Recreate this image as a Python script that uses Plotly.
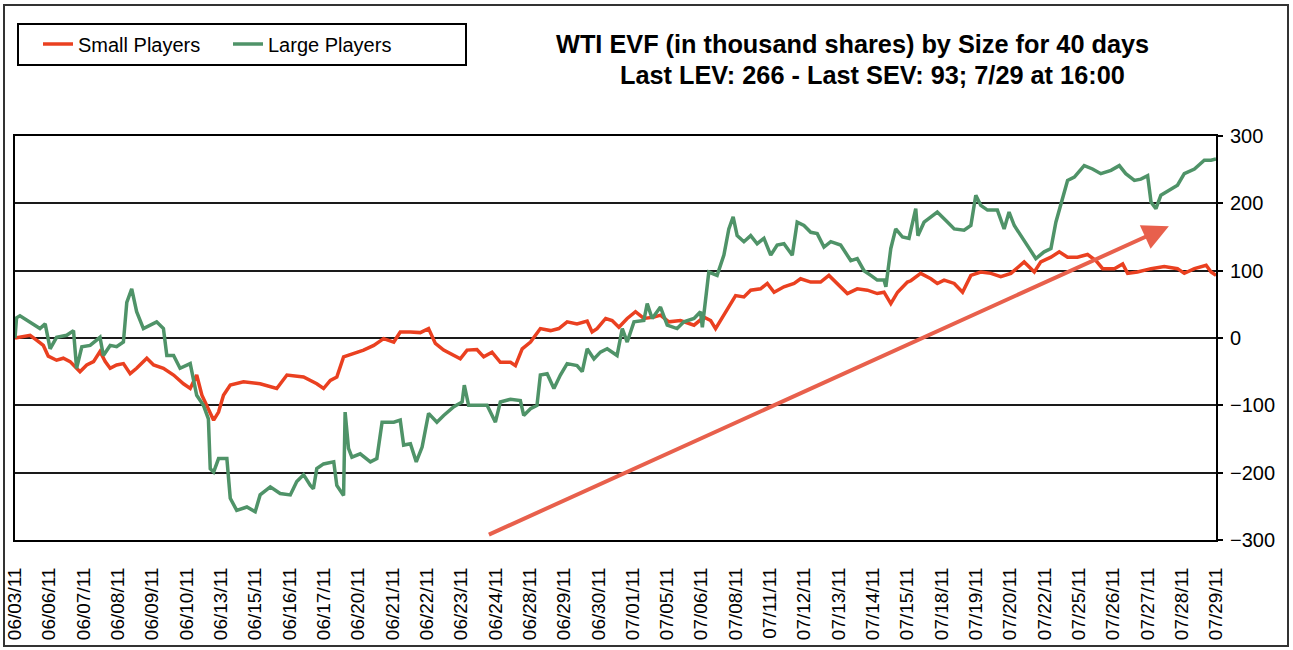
import numpy as np
import plotly.graph_objects as go

# ---------------- data ----------------
dates = ["06/03/11", "06/06/11", "06/07/11", "06/08/11", "06/09/11", "06/10/11",
         "06/13/11", "06/15/11", "06/16/11", "06/17/11", "06/20/11", "06/21/11",
         "06/22/11", "06/23/11", "06/24/11", "06/28/11", "06/29/11", "06/30/11",
         "07/01/11", "07/05/11", "07/06/11", "07/08/11", "07/11/11", "07/12/11",
         "07/13/11", "07/14/11", "07/15/11", "07/18/11", "07/19/11", "07/20/11",
         "07/22/11", "07/25/11", "07/26/11", "07/27/11", "07/28/11", "07/29/11"]

# sample position along the 40-day window (0 = start, 39 = last print)
small_pos = [0.0, 0.49, 0.70, 0.92, 1.08, 1.35, 1.57, 1.79, 2.0, 2.11, 2.33, 2.55, 2.76, 2.93,
             3.09, 3.30, 3.52, 3.74, 3.95, 4.28, 4.50, 4.82, 5.15, 5.47, 5.69, 5.90, 6.07, 6.23,
             6.45, 6.61, 6.77, 6.99, 7.42, 7.96, 8.50, 8.83, 9.37, 9.80, 10.02, 10.24, 10.45,
             10.67, 10.99, 11.32, 11.65, 11.97, 12.30, 12.51, 12.84, 13.16, 13.43, 13.65, 13.92,
             14.25, 14.46, 14.68, 15.00, 15.22, 15.49, 15.76, 16.09, 16.25, 16.47, 16.74, 17.06,
             17.39, 17.66, 17.93, 18.25, 18.58, 18.74, 18.90, 19.18, 19.39, 19.61, 19.88, 20.15,
             20.42, 20.75, 20.96, 21.23, 21.61, 22.05, 22.37, 22.59, 22.75, 22.91, 23.13, 23.40,
             23.67, 23.89, 24.21, 24.43, 24.65, 24.97, 25.30, 25.51, 25.84, 26.16, 26.43, 26.70,
             27.03, 27.35, 27.68, 28.00, 28.22, 28.44, 28.66, 28.98, 29.09, 29.41, 29.74, 29.95,
             30.17, 30.50, 30.77, 31.04, 31.36, 31.69, 32.01, 32.34, 32.77, 33.10, 33.31, 33.64,
             33.91, 34.18, 34.50, 34.83, 35.10, 35.32, 35.70, 35.97, 36.13, 36.45, 36.89, 37.32,
             37.75, 37.97, 38.30, 38.68, 38.84, 39.0]
small_val = [0, 4, -3, -11, -27, -33, -30, -35, -45, -50, -40, -35, -20, -35,
             -45, -40, -38, -53, -45, -30, -40, -45, -55, -68, -75, -55, -85, -100,
             -122, -110, -85, -70, -65, -68, -75, -55, -58, -68, -75, -63, -58,
             -28, -23, -18, -11, -1, -6, 9, 9, 8, 14, -8, -18,
             -26, -31, -18, -17, -28, -21, -36, -36, -41, -16, -6, 14,
             11, 14, 24, 21, 25, 9, 14, 29, 26, 16, 29, 39,
             29, 31, 34, 24, 26, 19, 31, 26, 14, 26, 41, 63,
             61, 71, 73, 81, 68, 76, 81, 88, 83, 83, 93, 81,
             66, 73, 71, 66, 68, 51, 68, 83, 85, 96, 88, 81,
             86, 81, 68, 93, 98, 96, 91, 96, 113, 98, 113, 120,
             128, 120, 120, 124, 115, 103, 103, 110, 96, 98, 103, 106,
             103, 96, 103, 108, 98, 93]

large_pos = [0.0, 0.05, 0.16, 0.49, 0.81, 0.98, 1.14, 1.35, 1.68, 1.90, 2.0, 2.17, 2.44, 2.76,
             2.87, 3.09, 3.30, 3.52, 3.63, 3.79, 3.95, 4.17, 4.39, 4.60, 4.82, 4.93, 5.15, 5.36,
             5.69, 5.90, 6.12, 6.28, 6.34, 6.45, 6.61, 6.88, 6.99, 7.20, 7.53, 7.80, 7.96, 8.29,
             8.61, 8.94, 9.15, 9.37, 9.59, 9.69, 9.80, 10.02, 10.35, 10.45, 10.67, 10.72, 10.83,
             10.94, 11.21, 11.54, 11.75, 11.92, 12.30, 12.51, 12.62, 12.84, 13.03, 13.22, 13.43,
             13.70, 13.92, 14.25, 14.52, 14.59, 14.73, 15.00, 15.33, 15.60, 15.76, 16.09, 16.41,
             16.52, 16.74, 16.95, 17.06, 17.28, 17.50, 17.71, 17.93, 18.25, 18.42, 18.58, 18.80,
             19.01, 19.23, 19.55, 19.72, 19.88, 20.10, 20.42, 20.53, 20.69, 20.96, 21.18, 21.50,
             21.72, 22.05, 22.26, 22.32, 22.53, 22.80, 23.02, 23.18, 23.32, 23.45, 23.67, 23.89,
             24.10, 24.32, 24.54, 24.75, 24.97, 25.24, 25.40, 25.62, 25.84, 26.05, 26.27, 26.49,
             26.81, 27.14, 27.35, 27.57, 27.79, 28.00, 28.22, 28.28, 28.44, 28.60, 28.82, 29.03,
             29.25, 29.32, 29.52, 29.95, 30.22, 30.50, 30.82, 31.04, 31.20, 31.36, 31.58, 31.90,
             32.12, 32.28, 32.45, 32.66, 32.88, 33.15, 33.42, 33.64, 33.80, 34.02, 34.18, 34.40,
             34.72, 34.99, 35.26, 35.59, 35.86, 36.07, 36.35, 36.56, 36.78, 36.89, 37.05, 37.21,
             37.54, 37.75, 37.97, 38.30, 38.62, 38.84, 39.0]
large_val = [0, 30, 33, 24, 14, 21, -16, 1, 4, 11, -45, -13, -11, 1,
             -26, -11, -13, -6, 53, 73, 39, 14, 19, 24, 14, -26, -26, -45,
             -38, -85, -100, -120, -194, -199, -179, -179, -238, -256, -251, -258, -233, -221,
             -231, -233, -213, -203, -219, -224, -194, -187, -184, -219, -234, -110, -164,
             -177, -172, -184, -179, -125, -125, -122, -159, -157, -184, -162, -112,
             -125, -115, -102, -95, -70, -100, -100, -100, -125, -95, -91, -93,
             -115, -105, -100, -55, -53, -75, -55, -38, -41, -50, -16, -31,
             -21, -16, -26, 14, -6, 24, 26, 51, 29, 46, 19, 14,
             24, 29, 39, 16, 98, 93, 123, 162, 180, 152, 143, 152,
             140, 148, 123, 138, 140, 123, 172, 167, 157, 155, 135, 143,
             138, 115, 118, 100, 93, 86, 86, 76, 133, 162, 150, 148,
             192, 152, 172, 187, 175, 162, 160, 167, 212, 197, 190, 190,
             162, 187, 167, 152, 138, 118, 128, 133, 172, 207, 234, 239,
             256, 251, 244, 249, 256, 244, 234, 236, 241, 202, 192, 212,
             222, 227, 244, 251, 264, 264, 266]

arrow_tail = (15.34, -293)
arrow_tip = (37.47, 166)

title_1 = "WTI EVF (in thousand shares) by Size for 40 days"
title_2 = "Last LEV: 266 - Last SEV: 93; 7/29 at 16:00"

# ---------------- layout geometry ----------------
W, H = 1293, 650
ML, MR, MT, MB = 15, 77, 136, 110
PW, PH = W - ML - MR, H - MT - MB


def px(x):
    return (x - ML) / PW


def py(y):
    return (H - MB - y) / PH


FONT = "Liberation Sans, Arial, sans-serif"
RED = "#EA4020"
GREEN = "#4F9368"

fig = go.Figure()
fig.add_trace(go.Scatter(x=small_pos, y=small_val, mode="lines", name="Small Players",
                         line=dict(color=RED, width=3.5)))
fig.add_trace(go.Scatter(x=large_pos, y=large_val, mode="lines", name="Large Players",
                         line=dict(color=GREEN, width=3.5)))

tickpos = np.linspace(0, 39, len(dates))

fig.update_layout(
    width=W, height=H,
    margin=dict(l=ML, r=MR, t=MT, b=MB, pad=0, autoexpand=False),
    paper_bgcolor="white", plot_bgcolor="white",
    font=dict(family=FONT, size=20, color="black"),
    showlegend=True,
    legend=dict(orientation="h", x=px(38), xanchor="left", y=py(44), yanchor="middle",
                bgcolor="rgba(0,0,0,0)", borderwidth=0, font=dict(size=20),
                itemwidth=30, entrywidth=145, tracegroupgap=0),
    xaxis=dict(range=[0, 39], tickmode="array", tickvals=tickpos, ticktext=dates,
               tickangle=-90, ticks="", showgrid=False, zeroline=False,
               showline=True, mirror=True, linecolor="black", linewidth=2,
               tickfont=dict(size=19), ticklabelstandoff=18, automargin=False),
    yaxis=dict(range=[-300, 300], side="right", dtick=100, tick0=0,
               ticks="outside", ticklen=5, tickwidth=2, tickcolor="black",
               showgrid=True, gridcolor="#1a1a1a", gridwidth=2, zeroline=False,
               showline=True, mirror=True, linecolor="black", linewidth=2,
               tickfont=dict(size=20), ticklabelstandoff=3, automargin=False),
)

# titles
fig.add_annotation(x=px(852), y=py(44), xref="paper", yref="paper", text="<b>%s</b>" % title_1,
                   showarrow=False, xanchor="center", yanchor="middle",
                   font=dict(size=25.3, family=FONT, color="black"))
fig.add_annotation(x=px(872), y=py(75), xref="paper", yref="paper", text="<b>%s</b>" % title_2,
                   showarrow=False, xanchor="center", yanchor="middle",
                   font=dict(size=25.3, family=FONT, color="black"))

# trend arrow
fig.add_annotation(x=arrow_tip[0], y=arrow_tip[1], ax=arrow_tail[0], ay=arrow_tail[1],
                   xref="x", yref="y", axref="x", ayref="y", text="", showarrow=True,
                   arrowhead=2, arrowsize=1.3, arrowwidth=4, arrowcolor="#E8604C")

# legend box and outer frame
fig.add_shape(type="rect", xref="paper", yref="paper", x0=px(18), x1=px(466), y0=py(65), y1=py(24),
              line=dict(color="black", width=2), fillcolor="rgba(0,0,0,0)", layer="above")
fig.add_shape(type="rect", xref="paper", yref="paper", x0=px(4), x1=px(1288), y0=py(646), y1=py(5),
              line=dict(color="#333333", width=2), fillcolor="rgba(0,0,0,0)", layer="above")

fig.write_html("out.html", config={"displayModeBar": False},
               post_script="document.body.style.margin='0px';document.body.style.overflow='hidden';")
